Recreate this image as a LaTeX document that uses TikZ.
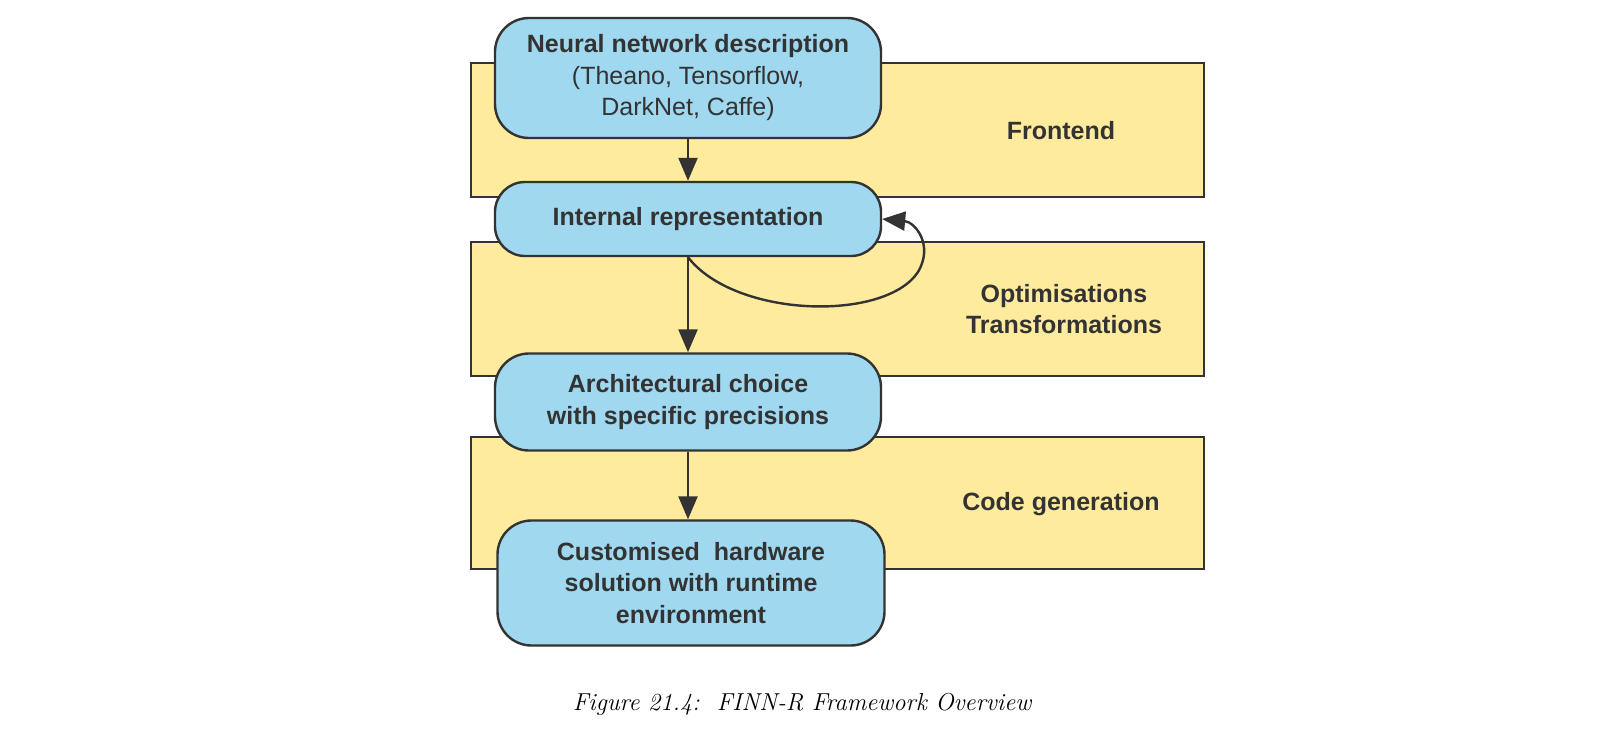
\documentclass[tikz,border=0pt]{standalone}
\usepackage{fontspec}
\setsansfont{Liberation Sans}
\usetikzlibrary{arrows.meta}
\definecolor{boxblue}{HTML}{A0D8EF}
\definecolor{bandyellow}{HTML}{FFEB9D}
\definecolor{ink}{HTML}{333333}
\tikzset{
  band/.style={draw=ink, fill=bandyellow, line width=2.4pt, rectangle, inner sep=0pt},
  stage/.style={draw=ink, fill=boxblue, line width=2.4pt, rectangle, rounded corners=34pt,
    align=center, text=ink, inner sep=0pt,
    font=\sffamily\bfseries\fontsize{25}{31.5}\selectfont},
  bandlabel/.style={text=ink, align=center, font=\sffamily\bfseries\fontsize{25}{31.5}\selectfont},
  arr/.style={draw=ink, line width=2.4pt, -{Triangle[length=23pt,width=19pt]}},
}
\begin{document}
\begin{tikzpicture}[x=1pt,y=-1pt]
\useasboundingbox (0,0) rectangle (1603,731);
% background bands
\node[band, minimum width=733pt, minimum height=134pt] (band1) at (837.5,130) {};
\node[band, minimum width=733pt, minimum height=134pt] (band2) at (837.5,309) {};
\node[band, minimum width=733pt, minimum height=132pt] (band3) at (837.5,503) {};
\node[bandlabel] (l1) at (1061,131) {Frontend};
\node[bandlabel] (l2) at (1064,309) {Optimisations\\Transformations};
\node[bandlabel] (l3) at (1061,504) {Code generation};
% stages
\node[stage, minimum width=386pt, minimum height=120pt, text depth=6pt] (n1) at (688,78)
  {Neural network description\\\mdseries(Theano, Tensorflow,\\\mdseries DarkNet, Caffe)};
\node[stage, minimum width=386pt, minimum height=74pt, rounded corners=30pt] (n2) at (688,219)
  {Internal representation};
\node[stage, minimum width=386pt, minimum height=97pt] (n3) at (688,402)
  {Architectural choice\\with specific precisions};
\node[stage, minimum width=387pt, minimum height=125pt] (n4) at (691,583)
  {Customised\ \ hardware\\solution with runtime\\environment};
% connectors
\draw[arr] (n1.south) -- (n2.north);
\draw[arr] (n2.south) -- (n3.north);
\draw[arr] (n3.south) -- (n4.north -| n3.south);
\draw[arr] (n2.south) .. controls (735,318) and (885,322) .. (918,272)
  .. controls (934,245) and (915,222) .. (n2.east);
% caption
\node[font=\itshape\fontsize{24.5}{28}\selectfont] (cap) at (802,704) {Figure 21.4:\ \ FINN-R Framework Overview};
\end{tikzpicture}
\end{document}
